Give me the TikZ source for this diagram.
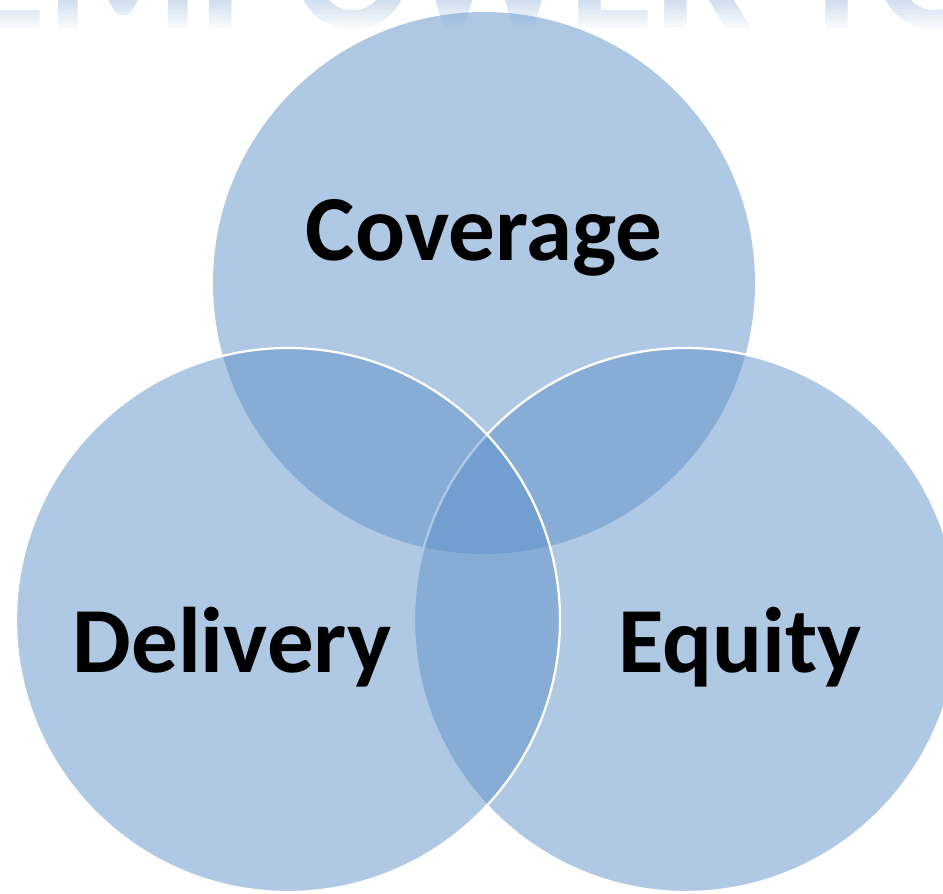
\documentclass[tikz,border=0pt]{standalone}
\usepackage{fontspec}
\setmainfont{Carlito}
\definecolor{vennblue}{RGB}{95,146,202}
\definecolor{markblue}{RGB}{206,220,238}
\tikzset{
  venn/.style={fill=vennblue,fill opacity=0.5},
  vennedge/.style={draw=white,line width=1.3pt},
  setlabel/.style={font=\bfseries\fontsize{53}{60}\selectfont,anchor=base,inner sep=0pt}
}
\begin{document}
\begin{tikzpicture}[x=0.02cm,y=-0.02cm]
  \useasboundingbox (0,0) rectangle (943,893);
  % faded heading, cut off at the top edge
  \begin{scope}
    \clip (0,0) rectangle (943,893);
    \node[text=markblue,font=\bfseries\fontsize{100}{110}\selectfont,anchor=base west,inner sep=0pt]
      (heading) at (-40,28) {EMPOWER TO THRIVE};
    \foreach \strip in {0,...,9}
      \fill[white,fill opacity=0.1+\strip/11] (-10,\strip*3) rectangle (953,\strip*3+3);
    \fill[white] (-10,30) rectangle (953,60);
  \end{scope}
  % the three sets
  \fill[venn] (484,283) circle (271);
  \fill[venn] (686,620) circle (272);
  \draw[vennedge] (686,620) circle (272);
  \fill[venn] (288,620) circle (272);
  \draw[vennedge] (288,620) circle (272);
  % labels
  \node[setlabel] (coverage) at (484,260) {Coverage};
  \node[setlabel] (delivery) at (232,672) {Delivery};
  \node[setlabel] (equity) at (740,672) {Equity};
\end{tikzpicture}
\end{document}
